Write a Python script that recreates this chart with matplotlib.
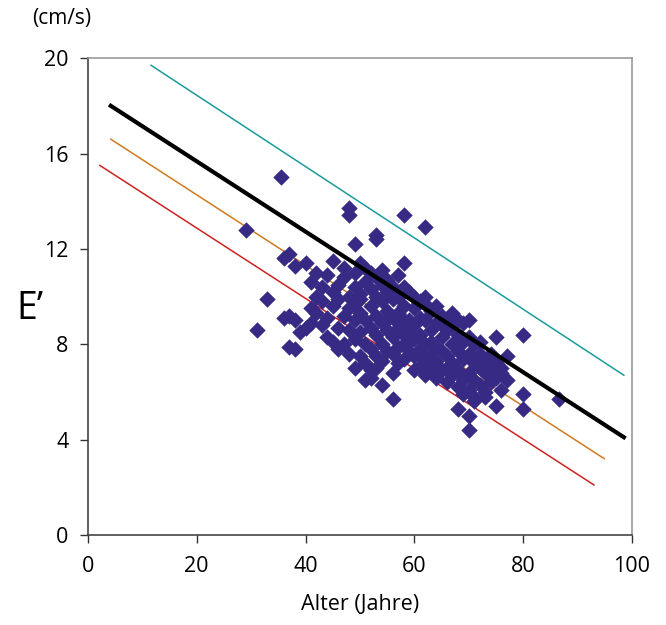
import matplotlib
matplotlib.use("Agg")
import matplotlib.pyplot as plt

# scatter data: age (years), E' (cm/s)
age = [
    35.5, 29, 31, 33, 36, 37, 38, 36, 37, 38, 37, 38, 39, 40, 40,
    48, 48, 49, 53, 53, 58, 62, 58, 57, 80, 86.5, 80, 80, 70, 70,
    56, 54, 51, 52, 49, 75, 77, 76, 72, 74, 68, 71, 73, 75,
    41, 41, 41, 42, 42, 42, 43, 43, 43, 44, 44, 44,
    45, 45, 45, 45, 46, 46, 46, 46, 47, 47, 47, 47, 48, 48, 48, 48,
    49, 49, 49, 49, 49, 50, 50, 50, 50, 50, 50, 51, 51, 51, 51, 51,
    52, 52, 52, 52, 52, 52, 53, 53, 53, 53, 53, 53, 54, 54, 54, 54, 54, 54,
    55, 55, 55, 55, 55, 55, 56, 56, 56, 56, 56, 56, 57, 57, 57, 57, 57,
    58, 58, 58, 58, 58, 58, 59, 59, 59, 59, 59, 60, 60, 60, 60, 60, 60,
    61, 61, 61, 61, 61, 62, 62, 62, 62, 62, 62, 63, 63, 63, 63, 63,
    64, 64, 64, 64, 64, 65, 65, 65, 65, 65, 66, 66, 66, 66, 66,
    67, 67, 67, 67, 67, 68, 68, 68, 68, 68, 69, 69, 69, 69, 69,
    70, 70, 70, 70, 70, 71, 71, 71, 71, 72, 72, 72, 73, 73, 73,
    74, 74, 75, 75, 76, 76, 77,
]
e_prime = [
    15.0, 12.8, 8.6, 9.9, 11.6, 11.8, 11.3, 9.1, 9.2, 9.0, 7.9, 7.8, 8.5, 8.7, 11.4,
    13.7, 13.4, 12.2, 12.6, 12.4, 13.4, 12.9, 11.4, 10.9, 8.4, 5.7, 5.9, 5.3, 4.4, 5.0,
    5.7, 6.3, 6.5, 6.6, 7.0, 8.3, 7.5, 6.8, 8.1, 7.6, 5.3, 5.6, 5.8, 5.4,
    9.5, 10.6, 8.9, 10.0, 9.3, 11.0, 8.8, 10.4, 9.8, 10.9, 9.1, 8.3,
    9.6, 10.2, 11.5, 8.1, 8.7, 9.9, 10.5, 7.8, 9.2, 10.8, 8.0, 11.2, 9.5, 10.0, 8.6, 7.6,
    10.4, 9.0, 8.2, 11.0, 9.7, 9.3, 10.1, 8.5, 7.5, 11.4, 9.9, 10.6, 9.0, 8.0, 11.2, 7.2,
    9.6, 10.3, 8.7, 7.8, 11.0, 6.9, 9.2, 10.0, 8.4, 7.5, 10.8, 7.0, 9.8, 8.9, 10.5, 8.0, 7.3, 11.1,
    9.4, 10.2, 8.6, 7.7, 9.0, 10.7, 9.9, 8.3, 7.6, 10.4, 9.1, 6.8, 9.3, 8.7, 10.0, 7.9, 7.2,
    9.6, 8.4, 8.0, 10.4, 7.4, 9.0, 9.0, 8.1, 10.2, 7.7, 8.6, 8.8, 9.5, 7.5, 10.0, 8.2, 6.9,
    8.4, 9.1, 7.8, 9.8, 7.1, 9.0, 8.0, 7.4, 9.7, 6.7, 10.0, 8.6, 9.4, 7.6, 8.1, 7.0,
    8.9, 7.9, 9.6, 7.3, 6.6, 8.3, 9.2, 7.7, 6.9, 8.8, 8.6, 7.5, 9.0, 7.0, 6.4,
    8.0, 8.8, 7.2, 6.7, 9.3, 7.7, 8.4, 6.9, 6.2, 9.0, 8.1, 7.4, 6.5, 8.9, 5.9,
    7.6, 8.3, 6.8, 6.1, 9.0, 7.2, 6.5, 8.0, 5.8, 7.0, 6.3, 7.6, 6.8, 7.3, 6.0,
    7.0, 6.4, 6.6, 7.2, 6.1, 7.0, 6.5,
]

# reference lines (endpoints)
line_upper_x = [11.6, 98.5]
line_upper_y = [19.7, 6.7]
line_mean_x = [4.2, 98.5]
line_mean_y = [18.0, 4.1]
line_mid_x = [4.2, 94.9]
line_mid_y = [16.6, 3.2]
line_lower_x = [2.2, 93.0]
line_lower_y = [15.5, 2.1]

plt.rcParams['font.family'] = ['Open Sans', 'DejaVu Sans']

fig = plt.figure(figsize=(6.66, 6.25), dpi=100)
ax = fig.add_axes([0.132, 0.144, 0.817, 0.763])

ax.plot(line_upper_x, line_upper_y, color='#1a9a9a', linewidth=1.1, zorder=3)
ax.plot(line_mid_x, line_mid_y, color='#d07a20', linewidth=1.1, zorder=3)
ax.plot(line_lower_x, line_lower_y, color='#cc2222', linewidth=1.1, zorder=3)
ax.scatter(age, e_prime, marker='D', s=70, color='#372a85', linewidths=0, zorder=4)
ax.plot(line_mean_x, line_mean_y, color='black', linewidth=3, zorder=5)

ax.set_xlim(0, 100)
ax.set_ylim(0, 20)
ax.set_xticks(range(0, 101, 20))
ax.set_yticks(range(0, 21, 4))
ax.tick_params(direction='out', length=6, width=1, labelsize=15.5, colors='#333333',
               labelcolor='black')
ax.tick_params(axis='x', pad=9)
ax.tick_params(axis='y', pad=8)

for side in ['left', 'bottom']:
    ax.spines[side].set_color('#444444')
    ax.spines[side].set_linewidth(1.2)
for side in ['top', 'right']:
    ax.spines[side].set_color('#999999')
    ax.spines[side].set_linewidth(1.2)

ax.set_xlabel('Alter (Jahre)', fontsize=15.5, labelpad=12)
fig.text(0.045, 0.505, 'E\u2019', fontsize=27, ha='center', va='center')
fig.text(0.092, 0.971, '(cm/s)', fontsize=15, ha='center', va='center')

fig.savefig('out.png', dpi=100)
